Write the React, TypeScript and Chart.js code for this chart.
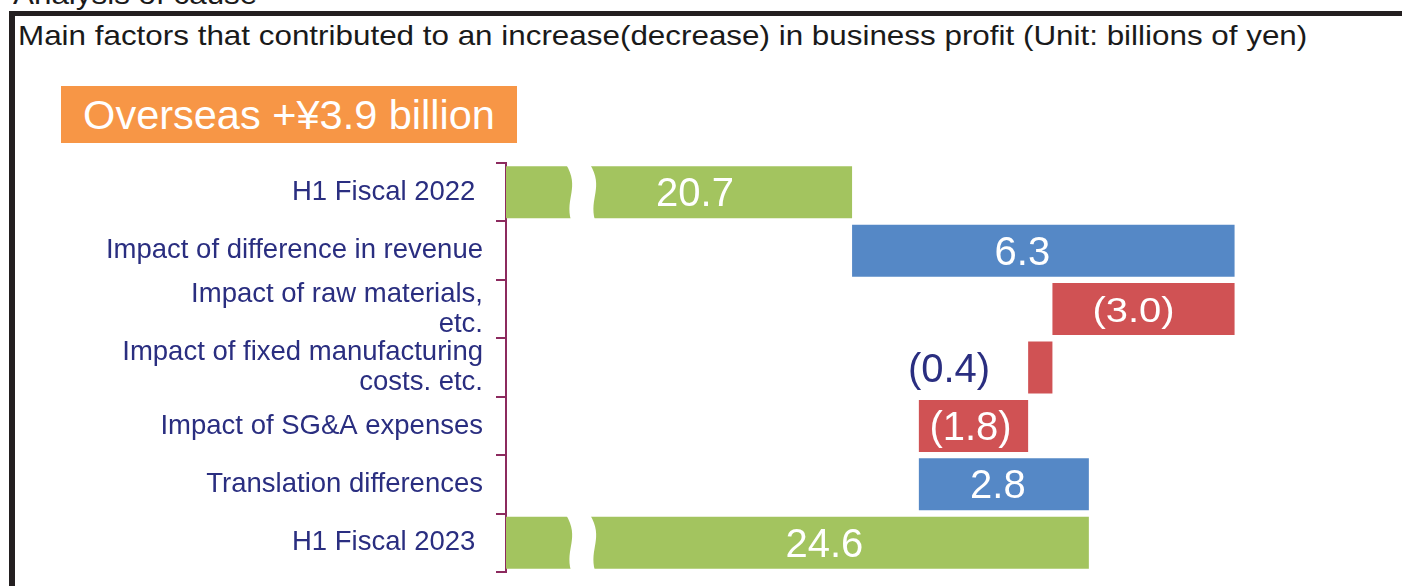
import React, { useEffect, useRef } from "react";
import { Chart, registerables } from "chart.js";

Chart.register(...registerables);

// Business-profit bridge, overseas segment (billions of yen)
const CATEGORIES: (string | string[])[] = [
  "H1 Fiscal 2022 ",
  "Impact of difference in revenue",
  ["Impact of raw materials,", "etc."],
  ["Impact of fixed manufacturing", "costs. etc."],
  "Impact of SG&A expenses",
  "Translation differences",
  "H1 Fiscal 2023 ",
];
const START_PROFIT = 20.7;
const CHANGES = [6.3, -3.0, -0.4, -1.8, 2.8];
const END_PROFIT = 24.6;
const AXIS_MIN = 15;
const AXIS_MAX = 29;

const HEADING = "Analysis of cause";
const TITLE =
  "Main factors that contributed to an increase(decrease) in business profit (Unit: billions of yen)";
const BADGE = "Overseas +¥3.9 billion";

// ---- styling ----
const FONT = "'Liberation Sans', Arial, Helvetica, sans-serif";
const COLORS = {
  total: "#A3C45F",
  up: "#5588C6",
  down: "#D05254",
  axis: "#8C2A5E",
  category: "#2A2E80",
  badge: "#F79646",
  frame: "#231F20",
};
const AXIS_LEFT = 506;
const LABEL_SHIFT = [16, -21, -10, 0, -3, -6, 27];
const LABEL_SCALE_Y = [1, 1, 0.88, 1, 1, 1, 1];
const BREAK_OFFSET = 60;
const BREAK_WIDTH = 24;

const formatValue = (v: number) =>
  v < 0 ? `(${Math.abs(v).toFixed(1)})` : v.toFixed(1);

// floating ranges for the waterfall
const ranges: [number, number][] = [[0, START_PROFIT]];
const labelValues: number[] = [START_PROFIT];
const barColors: string[] = [COLORS.total];
let running = START_PROFIT;
for (const c of CHANGES) {
  const next = running + c;
  ranges.push([running, next]);
  labelValues.push(c);
  barColors.push(c >= 0 ? COLORS.up : COLORS.down);
  running = next;
}
ranges.push([0, END_PROFIT]);
labelValues.push(END_PROFIT);
barColors.push(COLORS.total);

const LAST = ranges.length - 1;

const bridgeDecor = {
  id: "bridgeDecor",
  afterDatasetsDraw(chart: any) {
    const { ctx, chartArea } = chart;
    const meta = chart.getDatasetMeta(0);
    ctx.save();

    // wavy axis-break through the two total bars
    for (const i of [0, LAST]) {
      const el = meta.data[i];
      const { y, height } = el.getProps(["y", "height"], true);
      const t = y - height / 2 - 2;
      const b = y + height / 2 + 2;
      const h = b - t;
      const bx = chartArea.left + BREAK_OFFSET;
      const w = BREAK_WIDTH;
      ctx.beginPath();
      ctx.moveTo(bx, t);
      ctx.bezierCurveTo(bx + 14, t + h * 0.42, bx - 1, t + h * 0.6, bx + 5, b);
      ctx.lineTo(bx + 5 + w, b);
      ctx.bezierCurveTo(bx - 1 + w, t + h * 0.6, bx + 14 + w, t + h * 0.42, bx + w, t);
      ctx.closePath();
      ctx.fillStyle = "#ffffff";
      ctx.fill();
    }

    // value labels
    ctx.font = `40px ${FONT}`;
    ctx.textBaseline = "middle";
    labelValues.forEach((v, i) => {
      const el = meta.data[i];
      const { x, y, base } = el.getProps(["x", "y", "base"], true);
      const left = Math.max(Math.min(x, base), chartArea.left);
      const right = Math.max(x, base);
      const text = formatValue(v);
      const cy = y + 3;
      if (right - left < 60) {
        ctx.fillStyle = COLORS.category;
        ctx.textAlign = "right";
        ctx.fillText(text, left - 38, cy);
        return;
      }
      const cx = (left + right) / 2 + LABEL_SHIFT[i];
      ctx.fillStyle = "#ffffff";
      ctx.textAlign = "center";
      ctx.save();
      ctx.translate(cx, cy);
      ctx.scale(1, LABEL_SCALE_Y[i]);
      ctx.fillText(text, 0, 0);
      ctx.restore();
    });
    ctx.restore();
  },
};

export default function App() {
  const canvasRef = useRef<HTMLCanvasElement | null>(null);

  useEffect(() => {
    const canvas = canvasRef.current;
    if (!canvas) return;
    const chart = new Chart(canvas, {
      type: "bar",
      data: {
        labels: CATEGORIES as any,
        datasets: [
          {
            data: ranges as any,
            backgroundColor: barColors,
            borderWidth: 0,
            barPercentage: 0.89,
            categoryPercentage: 1,
            clip: 0 as any,
          },
        ],
      },
      options: {
        indexAxis: "y",
        responsive: false,
        animation: false,
        devicePixelRatio: 1,
        layout: { padding: { top: 163, bottom: 14, left: 0, right: 46 } },
        plugins: {
          legend: { display: false },
          tooltip: { enabled: false },
        },
        scales: {
          x: { display: false, min: AXIS_MIN, max: AXIS_MAX },
          y: {
            z: 1,
            afterFit: (scale: any) => {
              scale.width = AXIS_LEFT;
              scale.paddingTop = 0;
              scale.paddingBottom = 0;
            },
            grid: {
              display: true,
              drawOnChartArea: false,
              drawTicks: true,
              tickLength: 10,
              offset: true,
              color: COLORS.axis,
              lineWidth: 2,
            },
            border: { display: true, color: COLORS.axis, width: 2 },
            ticks: {
              autoSkip: false,
              padding: 13,
              color: COLORS.category,
              font: { family: FONT, size: 27.5, lineHeight: 1.1 },
            },
          },
        },
      },
      plugins: [bridgeDecor],
    });
    return () => chart.destroy();
  }, []);

  const stretched: React.CSSProperties = {
    position: "absolute",
    fontFamily: FONT,
    fontSize: 28,
    lineHeight: "28px",
    color: "#1a1a1a",
    whiteSpace: "nowrap",
    transform: "scaleX(1.121)",
    transformOrigin: "left top",
  };

  return (
    <div
      style={{
        position: "absolute",
        left: 0,
        top: 0,
        width: 1402,
        height: 586,
        overflow: "hidden",
        background: "#ffffff",
      }}
    >
      <div style={{ ...stretched, left: 13, top: -19 }}>{HEADING}</div>
      <div
        style={{
          position: "absolute",
          left: 9,
          top: 11,
          width: 1402,
          height: 5,
          background: COLORS.frame,
        }}
      />
      <div
        style={{
          position: "absolute",
          left: 9,
          top: 11,
          width: 6,
          height: 600,
          background: COLORS.frame,
        }}
      />
      <div style={{ ...stretched, left: 18, top: 22 }}>{TITLE}</div>
      <div
        style={{
          position: "absolute",
          left: 61,
          top: 86,
          width: 456,
          height: 57,
          background: COLORS.badge,
          color: "#ffffff",
          fontFamily: FONT,
          fontSize: 41.5,
          lineHeight: "57px",
          textAlign: "center",
          whiteSpace: "nowrap",
        }}
      >
        {BADGE}
      </div>
      <canvas
        ref={canvasRef}
        width={1402}
        height={586}
        style={{ position: "absolute", left: 0, top: 0, width: 1402, height: 586 }}
      />
    </div>
  );
}
